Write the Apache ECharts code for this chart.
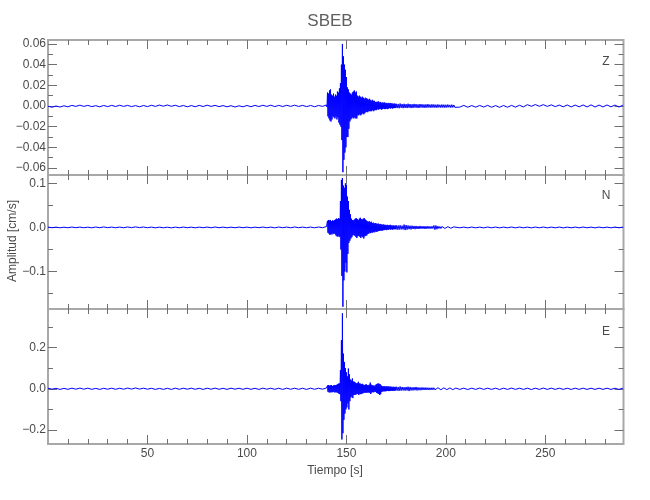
<!DOCTYPE html>
<html><head><meta charset="utf-8">
<script src="https://cdn.jsdelivr.net/npm/echarts@6/dist/echarts.min.js"></script>
<style>html,body{margin:0;padding:0;background:#fff}#c{width:650px;height:500px}</style>
</head><body><div id="c"></div>
<script>
// ---------------- DATA ----------------
const title = 'SBEB';
const components = ['Z', 'N', 'E'];
const xLabel = 'Tiempo [s]';
const yLabel = 'Amplitud [cm/s]';

// time axis
const xRange = [0, 289.3];
const xMajorTicks = [50, 100, 150, 200, 250];
const xMinorTicks = [10, 20, 30, 40, 60, 70, 80, 90, 110, 120, 130, 140, 160, 170, 180, 190, 210, 220, 230, 240, 260, 270, 280];

// sampling of the trace segments (start time, step in s)
const preStart = 0, preStep = 2;
const evtStart = 140, evtStep = 0.25;
const codaStart = 175, codaStep = 0.5;
const postStart = 205, postStep = 2;

// amplitude axes
const zRange = [-0.0667, 0.0638];
const nRange = [-0.185, 0.119];
const eRange = [-0.267, 0.386];
const zMajorTicks = [-0.06, -0.04, -0.02, 0, 0.02, 0.04, 0.06];
const zMinorTicks = [-0.05, -0.03, -0.01, 0.01, 0.03, 0.05];
const nMajorTicks = [-0.1, 0, 0.1];
const nMinorTicks = [-0.15, -0.05, 0.05];
const eMajorTicks = [-0.2, 0, 0.2];
const eMinorTicks = [-0.1, 0.1, 0.3];

// Z component
const zPre = [-0.0002,-0.0012,0.0000,-0.0010,0.0002,-0.0008,0.0006,-0.0004,0.0008,-0.0004,
0.0006,-0.0006,0.0003,-0.0008,0.0005,-0.0006,0.0006,-0.0005,0.0007,-0.0004,
0.0006,-0.0006,0.0004,-0.0008,0.0005,-0.0006,0.0007,-0.0004,0.0009,-0.0002,
0.0010,-0.0003,0.0007,-0.0006,0.0005,-0.0008,0.0004,-0.0007,0.0006,-0.0005,
0.0008,-0.0004,0.0006,-0.0006,0.0004,-0.0008,0.0003,-0.0010,0.0002,-0.0008,
0.0005,-0.0007,0.0006,-0.0005,0.0007,-0.0004,0.0008,-0.0006,0.0006,-0.0005,
0.0007,-0.0004,0.0008,-0.0004,0.0006,-0.0006,0.0005,-0.0007,0.0005,-0.0004];
const zEvt = [
0.001,-0.001, 0.013,-0.010, 0.012,-0.012, 0.015,-0.014, 0.016,-0.015,
0.011,-0.013, 0.010,-0.010, 0.012,-0.011, 0.009,-0.012, 0.011,-0.010,
0.010,-0.013, 0.014,-0.011, 0.013,-0.016, 0.017,-0.018, 0.022,-0.020,
0.040,-0.033, 0.060,-0.064, 0.048,-0.052, 0.040,-0.045, 0.035,-0.040,
0.028,-0.030, 0.018,-0.030, 0.016,-0.022, 0.013,-0.015, 0.012,-0.013,
0.011,-0.012, 0.013,-0.011, 0.014,-0.012, 0.015,-0.011, 0.013,-0.012,
0.014,-0.012, 0.010,-0.009, 0.009,-0.009, 0.010,-0.008, 0.009,-0.009,
0.008,-0.008, 0.009,-0.007, 0.008,-0.008, 0.007,-0.007, 0.008,-0.006,
0.0075,-0.0055, 0.007,-0.006, 0.006,-0.005, 0.007,-0.005, 0.006,-0.005,
0.005,-0.005, 0.006,-0.004, 0.005,-0.005, 0.005,-0.004, 0.004,-0.004,
0.004,-0.004, 0.004,-0.003, 0.0045,-0.0035, 0.0035,-0.003, 0.004,-0.003,
0.003,-0.0035, 0.0035,-0.003, 0.003,-0.0025, 0.0035,-0.003, 0.003,-0.003,
0.003,-0.0025, 0.0025,-0.003, 0.003,-0.0025, 0.0025,-0.002, 0.003,-0.0025,
0.0025,-0.002, 0.0025,-0.0025, 0.002,-0.002, 0.0025,-0.002, 0.002,-0.002];
const zCoda = [0.0022,-0.0020,0.0020,-0.0022,0.0024,-0.0018,0.0019,-0.0021,0.0021,-0.0019,
0.0018,-0.0020,0.0022,-0.0017,0.0019,-0.0020,0.0017,-0.0019,0.0020,-0.0016,
0.0018,-0.0018,0.0016,-0.0019,0.0019,-0.0015,0.0017,-0.0017,0.0015,-0.0018,
0.0016,-0.0016,0.0018,-0.0015,0.0014,-0.0017,0.0016,-0.0015,0.0015,-0.0016,
0.0013,-0.0017,0.0015,-0.0014,0.0012,-0.0016,0.0014,-0.0015,0.0013,-0.0016,
0.0012,-0.0015,0.0014,-0.0013,0.0011,-0.0016,0.0013,-0.0014,0.0010,-0.0013];
const zPost = [0.0005,-0.0011,0.0006,-0.0012,0.0004,-0.0011,0.0005,-0.0010,0.0006,-0.0012,
0.0004,-0.0013,0.0005,-0.0012,0.0006,-0.0011,0.0007,-0.0009,0.0013,-0.0003,
0.0014,-0.0003,0.0013,-0.0004,0.0011,-0.0006,0.0009,-0.0008,0.0010,-0.0009,
0.0009,-0.0008,0.0010,-0.0009,0.0011,-0.0010,0.0009,-0.0009,0.0010,-0.0008,
0.0009,-0.0010,0.0008];

// N component
const nPre = [0.0008,-0.0006,0.0007,-0.0008,0.0006,-0.0007,0.0009,-0.0005,0.0008,-0.0007,
0.0007,-0.0008,0.0010,-0.0006,0.0012,-0.0005,0.0009,-0.0007,0.0008,-0.0006,
0.0011,-0.0004,0.0013,-0.0003,0.0010,-0.0006,0.0008,-0.0008,0.0007,-0.0007,
0.0006,-0.0009,0.0008,-0.0007,0.0009,-0.0006,0.0007,-0.0008,0.0008,-0.0006,
0.0009,-0.0007,0.0010,-0.0006,0.0008,-0.0008,0.0007,-0.0007,0.0009,-0.0006,
0.0008,-0.0008,0.0007,-0.0006,0.0009,-0.0007,0.0008,-0.0009,0.0010,-0.0006,
0.0009,-0.0008,0.0011,-0.0006,0.0008,-0.0007,0.0009,-0.0008,0.0010,-0.0006];
const nEvt = [
0.002,-0.002, 0.015,-0.012, 0.017,-0.014, 0.016,-0.017, 0.017,-0.015,
0.014,-0.016, 0.016,-0.013, 0.015,-0.015, 0.017,-0.014, 0.018,-0.018,
0.020,-0.020, 0.019,-0.021, 0.021,-0.019, 0.020,-0.022, 0.060,-0.050,
0.108,-0.110, 0.112,-0.180, 0.095,-0.120, 0.090,-0.100, 0.100,-0.080,
0.097,-0.102, 0.070,-0.060, 0.060,-0.035, 0.040,-0.030, 0.030,-0.025,
0.020,-0.022, 0.017,-0.018, 0.016,-0.017, 0.018,-0.019, 0.020,-0.021,
0.021,-0.024, 0.019,-0.020, 0.017,-0.019, 0.020,-0.021, 0.022,-0.024,
0.019,-0.020, 0.018,-0.022, 0.020,-0.025, 0.021,-0.020, 0.018,-0.019,
0.016,-0.018, 0.014,-0.015, 0.013,-0.014, 0.014,-0.012, 0.012,-0.013,
0.013,-0.011, 0.010,-0.012, 0.011,-0.010, 0.009,-0.011, 0.010,-0.009,
0.009,-0.010, 0.008,-0.009, 0.009,-0.008, 0.007,-0.008, 0.008,-0.007,
0.007,-0.007, 0.006,-0.007, 0.007,-0.006, 0.006,-0.006, 0.006,-0.005,
0.005,-0.006, 0.006,-0.005, 0.005,-0.005, 0.005,-0.004, 0.006,-0.005,
0.005,-0.004, 0.004,-0.005, 0.005,-0.004, 0.004,-0.004, 0.004,-0.004];
const nCoda = [0.005,-0.005,0.0045,-0.005,0.005,-0.0045,0.004,-0.0045,0.0065,-0.006,
0.0055,-0.005,0.0045,-0.004,0.004,-0.0045,0.004,-0.0035,0.0035,-0.004,
0.0035,-0.0035,0.003,-0.0035,0.0035,-0.003,0.003,-0.003,0.003,-0.0035,
0.0028,-0.003,0.003,-0.0028,0.0025,-0.003,0.0028,-0.0025,0.0045,-0.005,
0.0045,-0.004,0.003,-0.0025,0.0022,-0.0025,0.0022,-0.002,0.002,-0.0022,
0.002,-0.002,0.0018,-0.002,0.002,-0.0018,0.0016,-0.0016,0.0013,-0.0014];
const nPost = [0.0010,-0.0008,0.0008,-0.0009,0.0009,-0.0008,0.0008,-0.0010,0.0010,-0.0008,
0.0009,-0.0009,0.0008,-0.0008,0.0010,-0.0009,0.0009,-0.0008,0.0008,-0.0009,
0.0009,-0.0008,0.0010,-0.0009,0.0008,-0.0008,0.0009,-0.0010,0.0008,-0.0008,
0.0009,-0.0009,0.0010,-0.0008,0.0008,-0.0009,0.0009,-0.0008,0.0008,-0.0009,
0.0009,-0.0008,0.0008];

// E component
const ePre = [0.003,-0.002,0.0025,-0.003,0.002,-0.0025,0.003,-0.002,0.0035,-0.002,
0.003,-0.0025,0.002,-0.003,0.0025,-0.002,0.003,-0.0025,0.0028,-0.002,
0.0035,-0.0015,0.004,-0.0015,0.003,-0.002,0.0025,-0.003,0.002,-0.0028,
0.0025,-0.003,0.003,-0.0025,0.0028,-0.002,0.003,-0.0025,0.0025,-0.003,
0.003,-0.002,0.0032,-0.0025,0.0025,-0.0028,0.003,-0.002,0.0028,-0.0025,
0.003,-0.0025,0.0025,-0.003,0.003,-0.002,0.0028,-0.0025,0.0025,-0.003,
0.003,-0.0022,0.0028,-0.0025,0.0025,-0.003,0.003,-0.0025,0.0028,-0.002];
const eEvt = [
0.004,-0.004, 0.016,-0.014, 0.018,-0.017, 0.015,-0.018, 0.017,-0.016,
0.018,-0.017, 0.014,-0.016, 0.016,-0.015, 0.018,-0.018, 0.017,-0.016,
0.019,-0.018, 0.022,-0.020, 0.025,-0.024, 0.026,-0.026, 0.090,-0.060,
0.235,-0.245, 0.365,-0.215, 0.170,-0.150, 0.130,-0.120, 0.100,-0.100,
0.080,-0.090, 0.060,-0.070, 0.098,-0.100, 0.070,-0.060, 0.045,-0.042,
0.040,-0.038, 0.050,-0.045, 0.035,-0.030, 0.034,-0.030, 0.030,-0.028,
0.026,-0.026, 0.028,-0.025, 0.034,-0.030, 0.026,-0.024, 0.025,-0.026,
0.022,-0.024, 0.024,-0.022, 0.020,-0.020, 0.018,-0.019, 0.020,-0.018,
0.022,-0.020, 0.018,-0.017, 0.017,-0.018, 0.020,-0.019, 0.030,-0.025,
0.020,-0.018, 0.017,-0.016, 0.016,-0.017, 0.015,-0.014, 0.016,-0.015,
0.022,-0.020, 0.024,-0.022, 0.026,-0.025, 0.024,-0.030, 0.022,-0.026,
0.016,-0.015, 0.013,-0.013, 0.012,-0.012, 0.013,-0.012, 0.011,-0.012,
0.012,-0.011, 0.011,-0.010, 0.012,-0.011, 0.010,-0.011, 0.011,-0.010,
0.010,-0.009, 0.009,-0.010, 0.010,-0.009, 0.009,-0.009, 0.009,-0.008];
const eCoda = [0.010,-0.009,0.009,-0.010,0.011,-0.009,0.009,-0.008,0.008,-0.009,
0.009,-0.008,0.010,-0.011,0.009,-0.008,0.007,-0.008,0.008,-0.007,
0.009,-0.008,0.007,-0.007,0.006,-0.007,0.007,-0.006,0.006,-0.006,
0.006,-0.0055,0.0055,-0.006,0.005,-0.0055,0.0055,-0.005,0.005,-0.005,
0.0045,-0.005,0.005,-0.0045,0.0045,-0.0045,0.004,-0.0045,0.0045,-0.004,
0.004,-0.004,0.0045,-0.004,0.004,-0.0035,0.0035,-0.004,0.0035,-0.0035];
const ePost = [0.0035,-0.003,0.003,-0.0035,0.003,-0.003,0.0035,-0.003,0.003,-0.003,
0.003,-0.0035,0.003,-0.003,0.0035,-0.003,0.003,-0.003,0.003,-0.0035,
0.003,-0.003,0.0035,-0.003,0.003,-0.003,0.003,-0.003,0.0028,-0.003,
0.003,-0.0028,0.003,-0.003,0.0028,-0.003,0.003,-0.0028,0.003,-0.003,
0.0028,-0.003,0.003];

// ---------------- LAYOUT / STYLE ----------------
const FONT = "'Liberation Sans', Arial, sans-serif";
const TXT = '#4a4a4a';
const FRAME = '#a8a8a8';
const TICKC = '#707070';
const LINE = '#0000ff';
const gridLeft = 48, gridWidth = 575.5;
const panelBox = [[40, 175], [175, 309], [309, 444]];

const traces = [
  {name: 'Z', pre: zPre, evt: zEvt, coda: zCoda, post: zPost, range: zRange, major: zMajorTicks, minor: zMinorTicks, dec: 2},
  {name: 'N', pre: nPre, evt: nEvt, coda: nCoda, post: nPost, range: nRange, major: nMajorTicks, minor: nMinorTicks, dec: 1},
  {name: 'E', pre: ePre, evt: eEvt, coda: eCoda, post: ePost, range: eRange, major: eMajorTicks, minor: eMinorTicks, dec: 1}
];

function seg(vals, t0, dt) { return vals.map((v, i) => [t0 + i * dt, v]); }
function fmtY(dec) {
  return v => { let s = v.toFixed(dec); if (parseFloat(s) === 0) s = (0).toFixed(dec); return s.replace('-', '\u2212'); };
}

const grid = [], xAxis = [], yAxis = [], series = [];
traces.forEach((tr, i) => {
  const [top, bot] = panelBox[i];
  grid.push({left: gridLeft, width: gridWidth, top: top, height: bot - top,
    show: true, borderColor: FRAME, borderWidth: 2, backgroundColor: 'transparent'});
  const isLast = i === traces.length - 1;
  const xa = (pos, vals, len, lab) => ({
    type: 'value', gridIndex: i, position: pos, min: xRange[0], max: xRange[1],
    axisLine: {show: false, onZero: false}, splitLine: {show: false},
    axisTick: {show: true, inside: true, length: len, customValues: vals, lineStyle: {color: TICKC, width: 1}},
    axisLabel: {show: lab, customValues: vals, margin: 4, color: TXT, fontSize: 12, fontFamily: FONT, formatter: v => String(v)}
  });
  xAxis.push(xa('bottom', xMajorTicks, 9, isLast));
  xAxis.push(xa('bottom', xMinorTicks, 5, false));
  xAxis.push(xa('top', xMajorTicks, 9, false));
  xAxis.push(xa('top', xMinorTicks, 5, false));
  const ya = (pos, vals, len, lab) => ({
    type: 'value', gridIndex: i, position: pos, min: tr.range[0], max: tr.range[1],
    axisLine: {show: false, onZero: false}, splitLine: {show: false},
    axisTick: {show: true, inside: true, length: len, customValues: vals, lineStyle: {color: TICKC, width: 1}},
    axisLabel: {show: lab, customValues: vals, margin: 2, color: TXT, fontSize: 12, fontFamily: FONT, formatter: fmtY(tr.dec)}
  });
  yAxis.push(ya('left', tr.major, 9, true));
  yAxis.push(ya('left', tr.minor, 5, false));
  yAxis.push(ya('right', tr.major, 9, false));
  yAxis.push(ya('right', tr.minor, 5, false));
  const data = [].concat(seg(tr.pre, preStart, preStep), seg(tr.evt, evtStart, evtStep),
                         seg(tr.coda, codaStart, codaStep), seg(tr.post, postStart, postStep));
  series.push({type: 'line', name: tr.name, xAxisIndex: i * 4, yAxisIndex: i * 4, data: data,
    showSymbol: false, symbol: 'none', sampling: null, silent: true,
    lineStyle: {color: LINE, width: 1}, clip: true});
});

const letterY = [62, 196, 332];
const graphic = [
  {type: 'text', x: 330, y: 21, style: {text: title, fill: '#606060', font: '17px ' + FONT, align: 'center', verticalAlign: 'middle'}},
  {type: 'text', x: 335, y: 471, style: {text: xLabel, fill: TXT, font: '12px ' + FONT, align: 'center', verticalAlign: 'middle'}},
  {type: 'text', x: 13, y: 241, rotation: Math.PI / 2, style: {text: yLabel, fill: TXT, font: '12px ' + FONT, align: 'center', verticalAlign: 'middle'}}
];
components.forEach((c, i) => graphic.push({type: 'text', x: 606, y: letterY[i],
  style: {text: c, fill: TXT, font: '12px ' + FONT, align: 'center', verticalAlign: 'middle'}}));

const chart = echarts.init(document.getElementById('c'), null, {renderer: 'canvas'});
chart.setOption({animation: false, backgroundColor: '#fff', grid, xAxis, yAxis, series, graphic});
</script></body></html>
